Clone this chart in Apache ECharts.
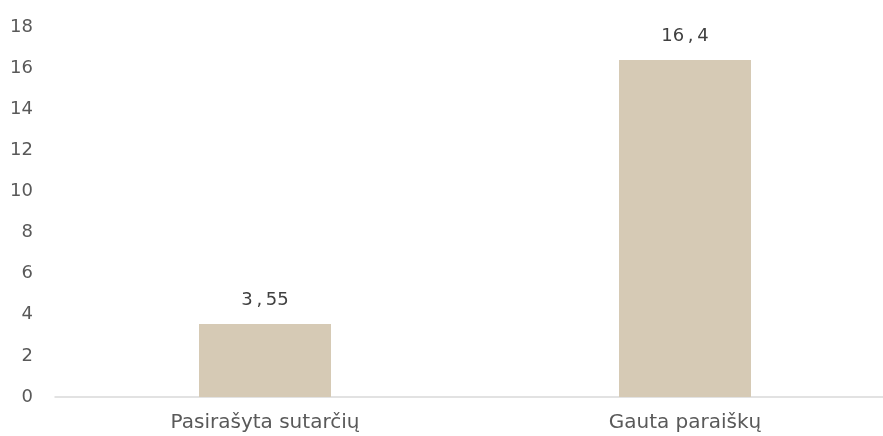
<!DOCTYPE html>
<html>
<head>
<meta charset="utf-8">
<script src="https://cdn.jsdelivr.net/npm/echarts@6/dist/echarts.min.js"></script>
<style>
  html, body { margin: 0; padding: 0; background: #fff; }
  #chart { width: 883px; height: 436px; }
</style>
</head>
<body>
<div id="chart"></div>
<script>
// duomenys
var categories = ['Pasirašyta sutarčių', 'Gauta paraiškų']
var values = [3.55, 16.4]
var yTicks = [0, 2, 4, 6, 8, 10, 12, 14, 16, 18]

var chart = echarts.init(document.getElementById('chart'))
chart.setOption({
  animation: false,
  grid: {
    left: 55,
    top: 27,
    bottom: 39,
    width: 840,
    outerBoundsMode: 'none'
  },
  xAxis: {
    type: 'category',
    data: categories,
    axisLine: { lineStyle: { color: '#d9d9d9', width: 1.5 } },
    axisTick: { show: false },
    axisLabel: {
      color: '#595959',
      fontFamily: 'DejaVu Sans',
      fontSize: 20,
      margin: 16
    }
  },
  yAxis: {
    type: 'value',
    min: yTicks[0],
    max: yTicks[yTicks.length - 1],
    interval: 2,
    splitLine: { show: false },
    axisLine: { show: false },
    axisTick: { show: false },
    axisLabel: {
      color: '#595959',
      fontFamily: 'DejaVu Sans',
      fontSize: 18,
      margin: 22
    }
  },
  series: [{
    type: 'bar',
    data: values,
    barWidth: 132,
    itemStyle: { color: '#d6cab5' },
    label: {
      show: true,
      position: 'top',
      distance: 15,
      color: '#404040',
      fontFamily: 'DejaVu Sans',
      fontSize: 18,
      formatter: function (p) {
        return String(p.value).replace('.', '\u2009,\u2009')
      }
    }
  }]
})
</script>
</body>
</html>
